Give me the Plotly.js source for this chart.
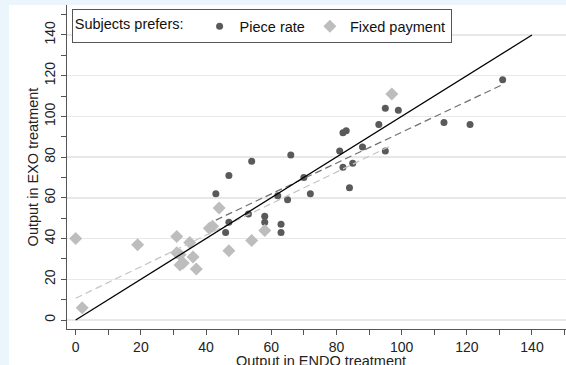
<!DOCTYPE html>
<html><head><meta charset="utf-8">
<script src="https://cdn.plot.ly/plotly-3.0.1.min.js"></script>
<style>
html,body{margin:0;padding:0;width:566px;height:365px;overflow:hidden;background:#eaf6fc;}
#chart{position:absolute;left:9px;top:5px;width:566px;height:360px;background:#fff;}
</style></head><body><div id="chart"></div>
<script>
// Piece rate (preferred)
const pieceX = [43,47,54,66,47,46,53,58,58,63,63,62,65,70,72,81,82,85,84,82,83,88,93,95,99,95,113,121,131];
const pieceY = [62,71,78,81,48,43,52,51,48,47,43,61,59,70,62,83,75,77,65,92,93,85,96,104,103,83,97,96,118];
// Fixed payment (preferred)
const fixedX = [0,2,19,31,31,32,32,33,35,36,37,41,42,44,47,54,58,97];
const fixedY = [40,6,37,41,33,32,27,28,38,31,25,45,46,55,34,39,44,111];
// 45-degree reference line endpoints
const diagX = [0,140];
const tickVals = [0,20,40,60,80,100,120,140];
const xTitle = 'Output in ENDO treatment';
const yTitle = 'Output in EXO treatment';

function ols(x,y){
  const n=x.length;
  const mx=x.reduce((a,b)=>a+b,0)/n, my=y.reduce((a,b)=>a+b,0)/n;
  let sxy=0,sxx=0;
  for(let i=0;i<n;i++){sxy+=(x[i]-mx)*(y[i]-my);sxx+=(x[i]-mx)*(x[i]-mx);}
  const b=sxy/sxx; return {a:my-b*mx,b:b};
}
function fitLine(x,y){
  const f=ols(x,y);
  const xs=[Math.min(...x),Math.max(...x)];
  return {x:xs,y:xs.map(v=>f.a+f.b*v)};
}
const fp=fitLine(pieceX,pieceY), ff=fitLine(fixedX,fixedY);
const FONT="'Liberation Sans', Arial, sans-serif";

const traces=[
  {x:pieceX,y:pieceY,type:'scatter',mode:'markers',name:'Piece rate',
   marker:{symbol:'circle',size:7,color:'#5a5a5a'}},
  {x:fixedX,y:fixedY,type:'scatter',mode:'markers',name:'Fixed payment',
   marker:{symbol:'diamond',size:10,color:'#bdbdbd'}},
  {x:fp.x,y:fp.y,type:'scatter',mode:'lines',showlegend:false,
   line:{color:'#707070',width:1.2,dash:'7px,4px'}},
  {x:ff.x,y:ff.y,type:'scatter',mode:'lines',showlegend:false,
   line:{color:'#c4c4c4',width:1.2,dash:'7px,4px'}},
  {x:diagX,y:diagX,type:'scatter',mode:'lines',showlegend:false,
   line:{color:'#000',width:1.3}}
];
const axCommon={showline:true,linecolor:'#555',linewidth:1,ticks:'outside',ticklen:5,tickcolor:'#555',tickwidth:1,
  tickmode:'array',tickvals:tickVals,zeroline:false,tickfont:{family:FONT,size:14,color:'#222'},
  minor:{dtick:10,tick0:0,ticks:'outside',ticklen:5,tickcolor:'#555',showgrid:false}};
const layout={
  width:566,height:360,margin:{l:58,r:0,t:0,b:36},
  paper_bgcolor:'#fff',plot_bgcolor:'#fff',
  font:{family:FONT,size:14,color:'#222'},
  xaxis:Object.assign({},axCommon,{range:[-2.67,153.2],showgrid:false}),
  yaxis:Object.assign({},axCommon,{range:[-4.42,154.7],showgrid:true,gridcolor:'#e8e8e8',gridwidth:1.5,tickangle:-90,
    title:{text:yTitle,font:{family:FONT,size:14.5,color:'#222'},standoff:0}}),
  annotations:[{text:xTitle,xref:'paper',yref:'paper',x:0.5,y:0,xanchor:'center',yanchor:'middle',
    yshift:-32,showarrow:false,font:{family:FONT,size:14.5,color:'#222'}}],
  showlegend:true,
  legend:{orientation:'h',x:0.0093,y:0.987,xanchor:'left',yanchor:'top',bgcolor:'#fff',
    bordercolor:'#555',borderwidth:1,font:{family:FONT,size:14.5,color:'#111'},
    title:{text:'Subjects prefers:  ',side:'left',font:{family:FONT,size:14.5,color:'#111'}}}
};
Plotly.newPlot('chart',traces,layout,{displayModeBar:false,staticPlot:true});
</script></body></html>
